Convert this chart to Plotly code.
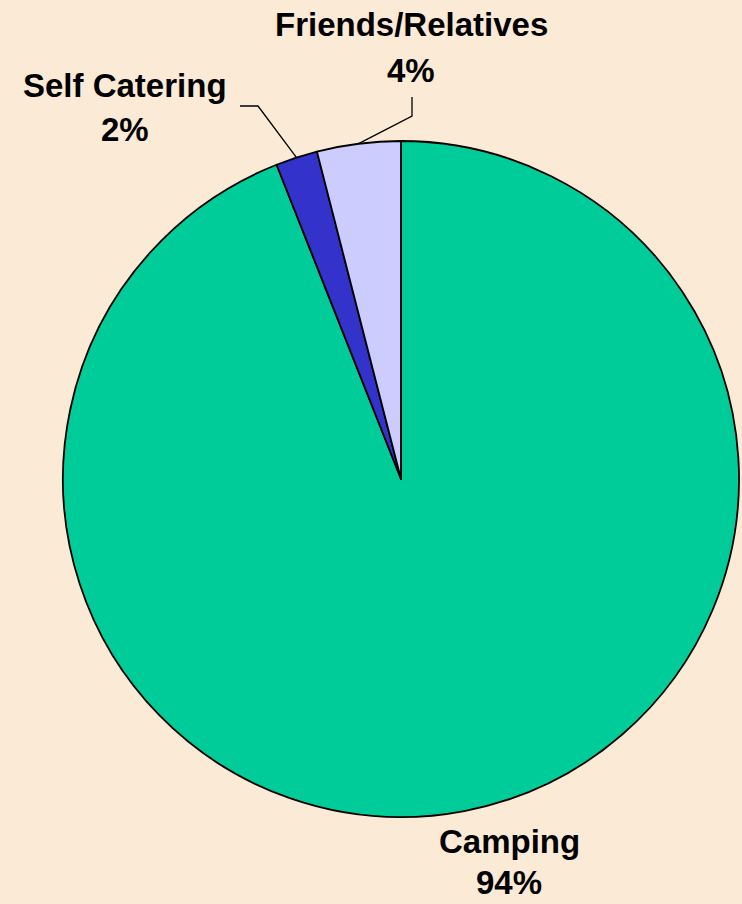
import math
import plotly.graph_objects as go

labels = ["Camping", "Self Catering", "Friends/Relatives"]
values = [94, 2, 4]
colors = ["#00CC99", "#3333CC", "#CCCCFF"]

W, H = 742, 904
CX, CY, R = 401, 479, 338  # pixel centre / radius of pie
BG = "#FAEAD6"

fig = go.Figure(go.Pie(
    labels=labels, values=values, sort=False, direction="clockwise",
    rotation=0, textinfo="none", hoverinfo="label+percent",
    marker=dict(colors=colors, line=dict(color="#000000", width=1.8)),
    domain=dict(x=[(CX - (W - CX)) / W, 1], y=[(H - CY - R) / H, (H - CY + R) / H]),
    showlegend=False,
))

total = sum(values)
pct = [f"{round(v / total * 100)}%" for v in values]

# label anchor positions (pixel) for name / percent lines
label_pos = {
    "Friends/Relatives": (411, 25, 71),
    "Self Catering": (125, 86, 129),
    "Camping": (509, 841, 882),
}
font = dict(family="Liberation Sans, Arial, sans-serif", size=33, color="#000000")
anns = []
for lab, p in zip(labels, pct):
    x, y1, y2 = label_pos[lab]
    anns.append(dict(x=x / W, y=1 - y1 / H, xref="paper", yref="paper", text=f"<b>{lab}</b>",
                     showarrow=False, font=font, xanchor="center", yanchor="middle"))
    anns.append(dict(x=x / W, y=1 - y2 / H, xref="paper", yref="paper", text=f"<b>{p}</b>",
                     showarrow=False, font=font, xanchor="center", yanchor="middle"))

# leader lines: from label elbow to slice mid-point on the rim (clockwise from 12 o'clock)
cum = 0
mids = {}
for lab, v in zip(labels, values):
    mids[lab] = (cum + v / 2) / total * 360
    cum += v

def rim(lab):
    a = math.radians(mids[lab])
    return CX + R * math.sin(a), CY - R * math.cos(a)

shapes = []
ex, ey = rim("Self Catering")
path = f"M {240/W} {1-106/H} L {258/W} {1-106/H} L {ex/W} {1-ey/H}"
shapes.append(dict(type="path", xref="paper", yref="paper", path=path,
                   line=dict(color="#000000", width=1.3)))
ex, ey = rim("Friends/Relatives")
path = f"M {412/W} {1-97/H} L {412/W} {1-116/H} L {ex/W} {1-ey/H}"
shapes.append(dict(type="path", xref="paper", yref="paper", path=path,
                   line=dict(color="#000000", width=1.3)))

fig.update_layout(
    width=W, height=H, margin=dict(l=0, r=0, t=0, b=0),
    paper_bgcolor=BG, plot_bgcolor=BG,
    annotations=anns, shapes=shapes,
)
fig.write_html(
    "out.html",
    config={"displayModeBar": False},
    post_script=(
        "document.body.style.margin='0';"
        "document.body.style.padding='0';"
        "document.body.style.overflow='hidden';"
        f"document.body.style.background='{BG}';"
    ),
)
